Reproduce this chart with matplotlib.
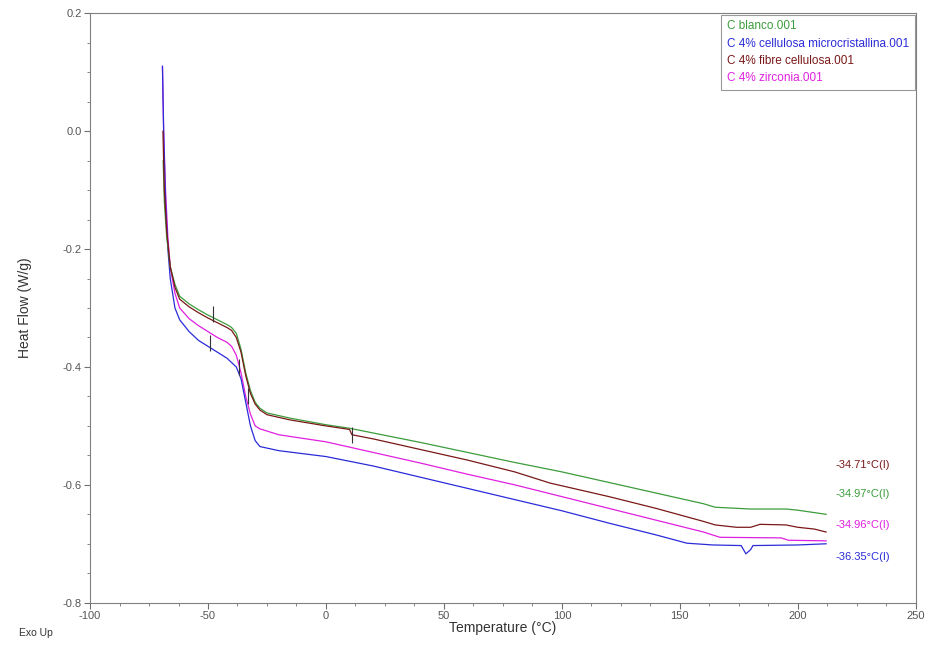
import matplotlib.pyplot as plt
from matplotlib.ticker import MultipleLocator

plt.rcParams['font.family'] = ['Liberation Sans', 'DejaVu Sans']

# DSC curves (temperature in C, heat flow in W/g)
t_blanco = [-69.0, -68.5, -67.5, -66, -64, -62, -58, -54, -50, -46, -42, -40, -38, -36, -34, -32, -30, -28,
            -25, -15, 0, 10, 20, 40, 60, 80, 100, 120, 140, 160, 165, 180, 195, 200, 212]
h_blanco = [-0.05, -0.12, -0.18, -0.23, -0.26, -0.28, -0.293, -0.303, -0.312, -0.32, -0.328, -0.333, -0.343,
            -0.37, -0.41, -0.44, -0.46, -0.47, -0.478, -0.487, -0.498, -0.504, -0.512, -0.528, -0.545,
            -0.562, -0.578, -0.596, -0.614, -0.632, -0.638, -0.641, -0.641, -0.643, -0.650]

t_micro = [-69.3, -68.8, -68, -67, -66, -64, -62, -58, -54, -50, -46, -42, -38, -36, -34, -32, -30, -28,
           -20, 0, 20, 40, 60, 80, 100, 120, 140, 153, 164, 176, 178, 180, 181, 200, 212]
h_micro = [0.11, 0.0, -0.12, -0.2, -0.25, -0.3, -0.32, -0.34, -0.355, -0.365, -0.375, -0.385, -0.4, -0.42,
           -0.46, -0.5, -0.525, -0.535, -0.542, -0.552, -0.568, -0.587, -0.606, -0.625, -0.644, -0.665,
           -0.685, -0.699, -0.702, -0.703, -0.717, -0.71, -0.703, -0.702, -0.700]

t_fibre = [-69.1, -68.5, -67.5, -66, -64, -62, -58, -54, -50, -46, -42, -40, -38, -36, -34, -32, -30, -28,
           -25, -15, 0, 10, 11, 20, 40, 60, 80, 95, 120, 140, 160, 165, 174, 180, 184, 195, 200, 207, 212]
h_fibre = [0.0, -0.1, -0.17, -0.23, -0.265, -0.285, -0.298, -0.308, -0.317, -0.325, -0.333, -0.338, -0.35,
           -0.375, -0.415, -0.445, -0.463, -0.473, -0.481, -0.49, -0.5, -0.506, -0.515, -0.522, -0.54,
           -0.558, -0.578, -0.597, -0.62, -0.64, -0.662, -0.668, -0.672, -0.672, -0.667, -0.668, -0.672,
           -0.675, -0.680]

t_zirc = [-69.3, -68.8, -68, -67, -66, -64, -62, -58, -54, -50, -46, -42, -40, -38, -36, -34, -32, -30,
          -28, -20, 0, 20, 40, 60, 80, 100, 120, 140, 160, 167, 193, 196, 212]
h_zirc = [0.11, 0.0, -0.1, -0.18, -0.23, -0.275, -0.3, -0.318, -0.33, -0.34, -0.35, -0.358, -0.365, -0.38,
          -0.41, -0.45, -0.48, -0.5, -0.505, -0.515, -0.527, -0.545, -0.563, -0.582, -0.6, -0.62, -0.64,
          -0.66, -0.68, -0.689, -0.69, -0.694, -0.695]

names = ["C blanco.001", "C 4% cellulosa microcristallina.001", "C 4% fibre cellulosa.001", "C 4% zirconia.001"]
colors = ["#3c9c3c", "#2b2bd8", "#7a1818", "#e020e0"]

# glass transition labels at the right end
tg_labels = ["-34.71°C(I)", "-34.97°C(I)", "-34.96°C(I)", "-36.35°C(I)"]
tg_y = [-0.567, -0.616, -0.668, -0.722]
tg_colors = ["#7a1818", "#3c9c3c", "#e020e0", "#2b2bd8"]

# little analysis marks on the curves
mark_t = [-49, -48, -37, -33, 11]
mark_h = [-0.36, -0.31, -0.40, -0.45, -0.516]

fig = plt.figure(figsize=(9.33, 6.66), dpi=100)
ax = fig.add_axes([0.0965, 0.095, 0.885, 0.885])

curves = [(t_blanco, h_blanco), (t_micro, h_micro), (t_fibre, h_fibre), (t_zirc, h_zirc)]
for i in [3, 1, 0, 2]:
    t, h = curves[i]
    ax.plot(t, h, color=colors[i], lw=0.9)
ax.plot(mark_t, mark_h, ls="none", marker="|", ms=12, color="#333333", mew=0.8)

ax.set_xlim(-100, 250)
ax.set_ylim(-0.8, 0.2)
ax.xaxis.set_major_locator(MultipleLocator(50))
ax.xaxis.set_minor_locator(MultipleLocator(12.5))
ax.yaxis.set_major_locator(MultipleLocator(0.2))
ax.yaxis.set_minor_locator(MultipleLocator(0.05))
ax.yaxis.set_major_formatter(plt.FuncFormatter(lambda v, p: "%.1f" % v))
ax.xaxis.set_major_formatter(plt.FuncFormatter(lambda v, p: "%d" % v))
ax.tick_params(which="both", direction="out", colors="#707070", labelcolor="#555555", labelsize=8,
               top=False, right=False, pad=2)
ax.tick_params(which="major", length=4)
ax.tick_params(which="minor", length=2.5)
for s in ax.spines.values():
    s.set_color("#808080")
    s.set_linewidth(0.8)

ax.set_xlabel("Temperature (°C)", fontsize=10, color="#333333")
ax.set_ylabel("Heat Flow (W/g)", fontsize=10, color="#333333")
ax.yaxis.set_label_coords(-0.07, 0.5)
ax.xaxis.set_label_coords(0.5, -0.031)
fig.text(0.02, 0.045, "Exo Up", fontsize=7.5, color="#333333")

for lab, y, c in zip(tg_labels, tg_y, tg_colors):
    ax.text(216, y, lab, color=c, fontsize=8, va="center")

leg = ax.legend([plt.Line2D([], [], lw=0) for _ in names], names, loc="upper right",
                handlelength=0, handletextpad=0, fontsize=8.5, frameon=True, fancybox=False,
                borderaxespad=0.1, labelspacing=0.45, borderpad=0.5)
leg.get_frame().set_edgecolor("#808080")
leg.get_frame().set_linewidth(0.8)
for txt, c in zip(leg.get_texts(), colors):
    txt.set_color(c)

fig.savefig("out.png", dpi=100)
